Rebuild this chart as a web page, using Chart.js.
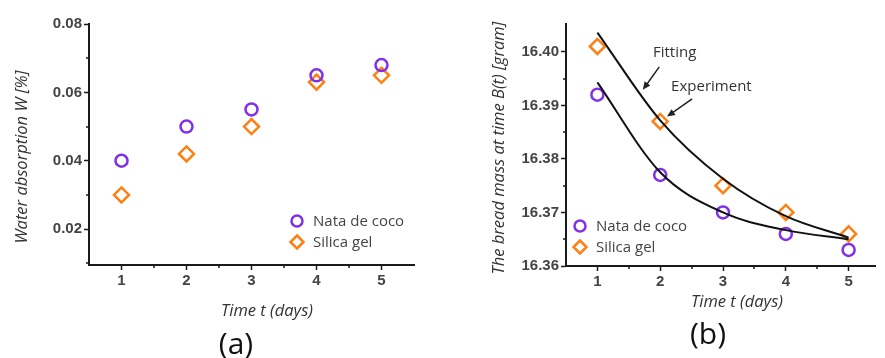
<!DOCTYPE html>
<html>
<head>
<meta charset="utf-8">
<script src="https://cdn.jsdelivr.net/npm/chart.js@4.4.0/dist/chart.umd.min.js"></script>
<style>
  body { margin: 0; background: #fff; }
  .panel { position: absolute; top: 0; height: 358px; }
  #boxA { left: 0; width: 440px; }
  #boxB { left: 440px; width: 445px; }
</style>
</head>
<body>
<div class="panel" id="boxA"><canvas id="chartA"></canvas></div>
<div class="panel" id="boxB"><canvas id="chartB"></canvas></div>
<script>
// data
const days = [1, 2, 3, 4, 5];
const absorptionNata = [0.040, 0.050, 0.055, 0.065, 0.068];
const absorptionSilica = [0.030, 0.042, 0.050, 0.063, 0.065];
const massNata = [16.392, 16.377, 16.370, 16.366, 16.363];
const massSilica = [16.401, 16.387, 16.375, 16.370, 16.366];
const fitNata = [16.3943, 16.3775, 16.3700, 16.3667, 16.3650];
const fitSilica = [16.4036, 16.3872, 16.3763, 16.3693, 16.3653];

const ticksDays = [1, 2, 3, 4, 5];
const ticksAbsorption = [0.02, 0.04, 0.06, 0.08];
const ticksMass = [16.36, 16.37, 16.38, 16.39, 16.40];
const minorDays = [1.5, 2.5, 3.5, 4.5];
const minorAbsorption = [0.01, 0.03, 0.05, 0.07];
const minorMass = [16.365, 16.375, 16.385, 16.395];

const PURPLE = '#8030e8';
const ORANGE = '#ff7f12';
const AXIS = '#1a1a1a';
const TEXT = '#333';
const SANS = '"Open Sans", "DejaVu Sans", sans-serif';
const TICKFONT = { family: '"Liberation Sans", Arial, sans-serif', size: 15, weight: 'bold' };

const pts = (xs, ys) => xs.map((x, i) => ({ x: x, y: ys[i] }));

// little marker painter, used for the in-plot legend
function marker(ctx, style, x, y, r, color) {
    ctx.save();
    ctx.beginPath();
    if (style === 'circle') {
        ctx.arc(x, y, r, 0, Math.PI * 2);
    } else {
        ctx.moveTo(x, y - r); ctx.lineTo(x + r, y); ctx.lineTo(x, y + r); ctx.lineTo(x - r, y); ctx.closePath();
    }
    ctx.fillStyle = '#fff';
    ctx.fill();
    ctx.lineWidth = 2.5;
    ctx.strokeStyle = color;
    ctx.stroke();
    ctx.restore();
}

function arrow(ctx, x1, y1, x2, y2) {
    const ang = Math.atan2(y2 - y1, x2 - x1);
    ctx.save();
    ctx.strokeStyle = '#222';
    ctx.fillStyle = '#222';
    ctx.lineWidth = 1.5;
    ctx.beginPath();
    ctx.moveTo(x1, y1);
    ctx.lineTo(x2 - 6 * Math.cos(ang), y2 - 6 * Math.sin(ang));
    ctx.stroke();
    ctx.beginPath();
    ctx.moveTo(x2, y2);
    ctx.lineTo(x2 - 8 * Math.cos(ang) + 3.5 * Math.sin(ang), y2 - 8 * Math.sin(ang) - 3.5 * Math.cos(ang));
    ctx.lineTo(x2 - 8 * Math.cos(ang) - 3.5 * Math.sin(ang), y2 - 8 * Math.sin(ang) + 3.5 * Math.cos(ang));
    ctx.closePath();
    ctx.fill();
    ctx.restore();
}

// draws minor ticks, axis titles, panel letter, legend and the arrows
const panelPlugin = {
    id: 'panel',
    afterDraw(chart, args, o) {
        const ctx = chart.ctx;
        const area = chart.chartArea;
        const sx = chart.scales.x, sy = chart.scales.y;

        ctx.save();
        ctx.strokeStyle = AXIS;
        ctx.lineWidth = 1.5;
        ctx.beginPath();
        o.minorX.forEach(v => {
            const px = Math.round(sx.getPixelForValue(v));
            ctx.moveTo(px, area.bottom); ctx.lineTo(px, area.bottom + 3);
        });
        o.minorY.forEach(v => {
            const py = Math.round(sy.getPixelForValue(v));
            ctx.moveTo(area.left - 3, py); ctx.lineTo(area.left, py);
        });
        ctx.stroke();

        ctx.fillStyle = TEXT;
        ctx.textAlign = 'center';
        ctx.textBaseline = 'middle';
        ctx.font = 'italic 16.5px ' + SANS;
        ctx.fillText(o.xTitle, o.xTitlePos[0], o.xTitlePos[1]);
        ctx.save();
        ctx.translate(o.yTitlePos[0], o.yTitlePos[1]);
        ctx.rotate(-Math.PI / 2);
        ctx.fillText(o.yTitle, 0, 0);
        ctx.restore();
        ctx.font = '30px ' + SANS;
        ctx.fillStyle = '#111';
        ctx.fillText(o.letter, o.letterPos[0], o.letterPos[1]);

        // legend
        ctx.font = '15px ' + SANS;
        ctx.textAlign = 'left';
        ctx.fillStyle = '#444';
        let ly = area.bottom + o.legend.dy;
        chart.data.datasets.filter(d => d.showLine === false).forEach(d => {
            const lx = o.legend.fromRight ? area.right - o.legend.dx : area.left + o.legend.dx;
            marker(ctx, d.pointStyle, lx, ly, d.pointStyle === 'circle' ? 5.5 : 6.5, d.borderColor);
            ctx.fillText(d.label, lx + 16, ly + 1);
            ly += 21;
        });

        (o.notes || []).forEach(n => {
            ctx.font = '15px ' + SANS;
            ctx.textAlign = 'center';
            ctx.fillStyle = TEXT;
            ctx.fillText(n.text, sx.getPixelForValue(n.at[0]), sy.getPixelForValue(n.at[1]));
            arrow(ctx, sx.getPixelForValue(n.from[0]), sy.getPixelForValue(n.from[1]),
                sx.getPixelForValue(n.to[0]), sy.getPixelForValue(n.to[1]));
        });
        ctx.restore();
    }
};

function axisX(min, max, height) {
    return {
        type: 'linear', min: min, max: max,
        afterBuildTicks: s => { s.ticks = ticksDays.map(v => ({ value: v })); },
        afterFit: s => { s.height = height; },
        grid: { drawOnChartArea: false, tickLength: 5, tickColor: AXIS, tickWidth: 1.5 },
        border: { color: AXIS, width: 2 },
        ticks: { padding: 2, color: '#444', font: TICKFONT, callback: v => String(v) }
    };
}

function axisY(min, max, width, tickList, digits) {
    return {
        type: 'linear', min: min, max: max,
        afterBuildTicks: s => { s.ticks = tickList.map(v => ({ value: v })); },
        afterFit: s => { s.width = width; },
        grid: { drawOnChartArea: false, tickLength: 5, tickColor: AXIS, tickWidth: 1.5 },
        border: { color: AXIS, width: 2 },
        ticks: { padding: 2, color: '#444', font: TICKFONT, callback: v => Number(v).toFixed(digits) }
    };
}

function scatterSet(label, data, style, color, r) {
    return {
        label: label, data: data, showLine: false,
        pointStyle: style, pointRadius: r, pointBorderWidth: 2.5,
        borderColor: color, backgroundColor: 'rgba(255,255,255,0)'
    };
}

function fitSet(data) {
    return {
        label: 'fit', data: data, showLine: true, pointRadius: 0,
        borderColor: '#111', borderWidth: 2, cubicInterpolationMode: 'monotone'
    };
}

const common = {
    responsive: true,
    maintainAspectRatio: false,
    animation: false,
    plugins: { legend: { display: false }, tooltip: { enabled: false } }
};

new Chart(document.getElementById('chartA'), {
    type: 'scatter',
    data: {
        datasets: [
            scatterSet('Nata de coco', pts(days, absorptionNata), 'circle', PURPLE, 6),
            scatterSet('Silica gel', pts(days, absorptionSilica), 'rectRot', ORANGE, 7.5)
        ]
    },
    options: Object.assign({}, common, {
        layout: { padding: { left: 0, top: 24, right: 26, bottom: 0 } },
        scales: { x: axisX(0.5, 5.5, 93), y: axisY(0.0095, 0.08, 89, ticksAbsorption, 2) },
        plugins: Object.assign({}, common.plugins, {
            panel: {
                minorX: minorDays, minorY: minorAbsorption,
                xTitle: 'Time t (days)', xTitlePos: [267, 311],
                yTitle: 'Water absorption W [%]', yTitlePos: [22, 157],
                letter: '(a)', letterPos: [236, 345],
                legend: { fromRight: true, dx: 117, dy: -44 }
            }
        })
    }),
    plugins: [panelPlugin]
});

new Chart(document.getElementById('chartB'), {
    type: 'scatter',
    data: {
        datasets: [
            fitSet(pts(days, fitNata)),
            fitSet(pts(days, fitSilica)),
            scatterSet('Nata de coco', pts(days, massNata), 'circle', PURPLE, 6),
            scatterSet('Silica gel', pts(days, massSilica), 'rectRot', ORANGE, 7.5)
        ]
    },
    options: Object.assign({}, common, {
        layout: { padding: { left: 0, top: 24, right: 0, bottom: 0 } },
        scales: { x: axisX(0.5, 5.42, 92), y: axisY(16.36, 16.4052, 126, ticksMass, 2) },
        plugins: Object.assign({}, common.plugins, {
            panel: {
                minorX: minorDays, minorY: minorMass,
                xTitle: 'Time t (days)', xTitlePos: [297, 302],
                yTitle: 'The bread mass at time B(t) [gram]', yTitlePos: [59, 148],
                letter: '(b)', letterPos: [268, 335],
                legend: { fromRight: false, dx: 14, dy: -40 },
                notes: [
                    { text: 'Fitting', at: [2.23, 16.3998], from: [1.985, 16.3972], to: [1.723, 16.3929] },
                    { text: 'Experiment', at: [2.815, 16.3935], from: [2.508, 16.3912], to: [2.108, 16.3879] }
                ]
            }
        })
    }),
    plugins: [panelPlugin]
});
</script>
</body>
</html>
